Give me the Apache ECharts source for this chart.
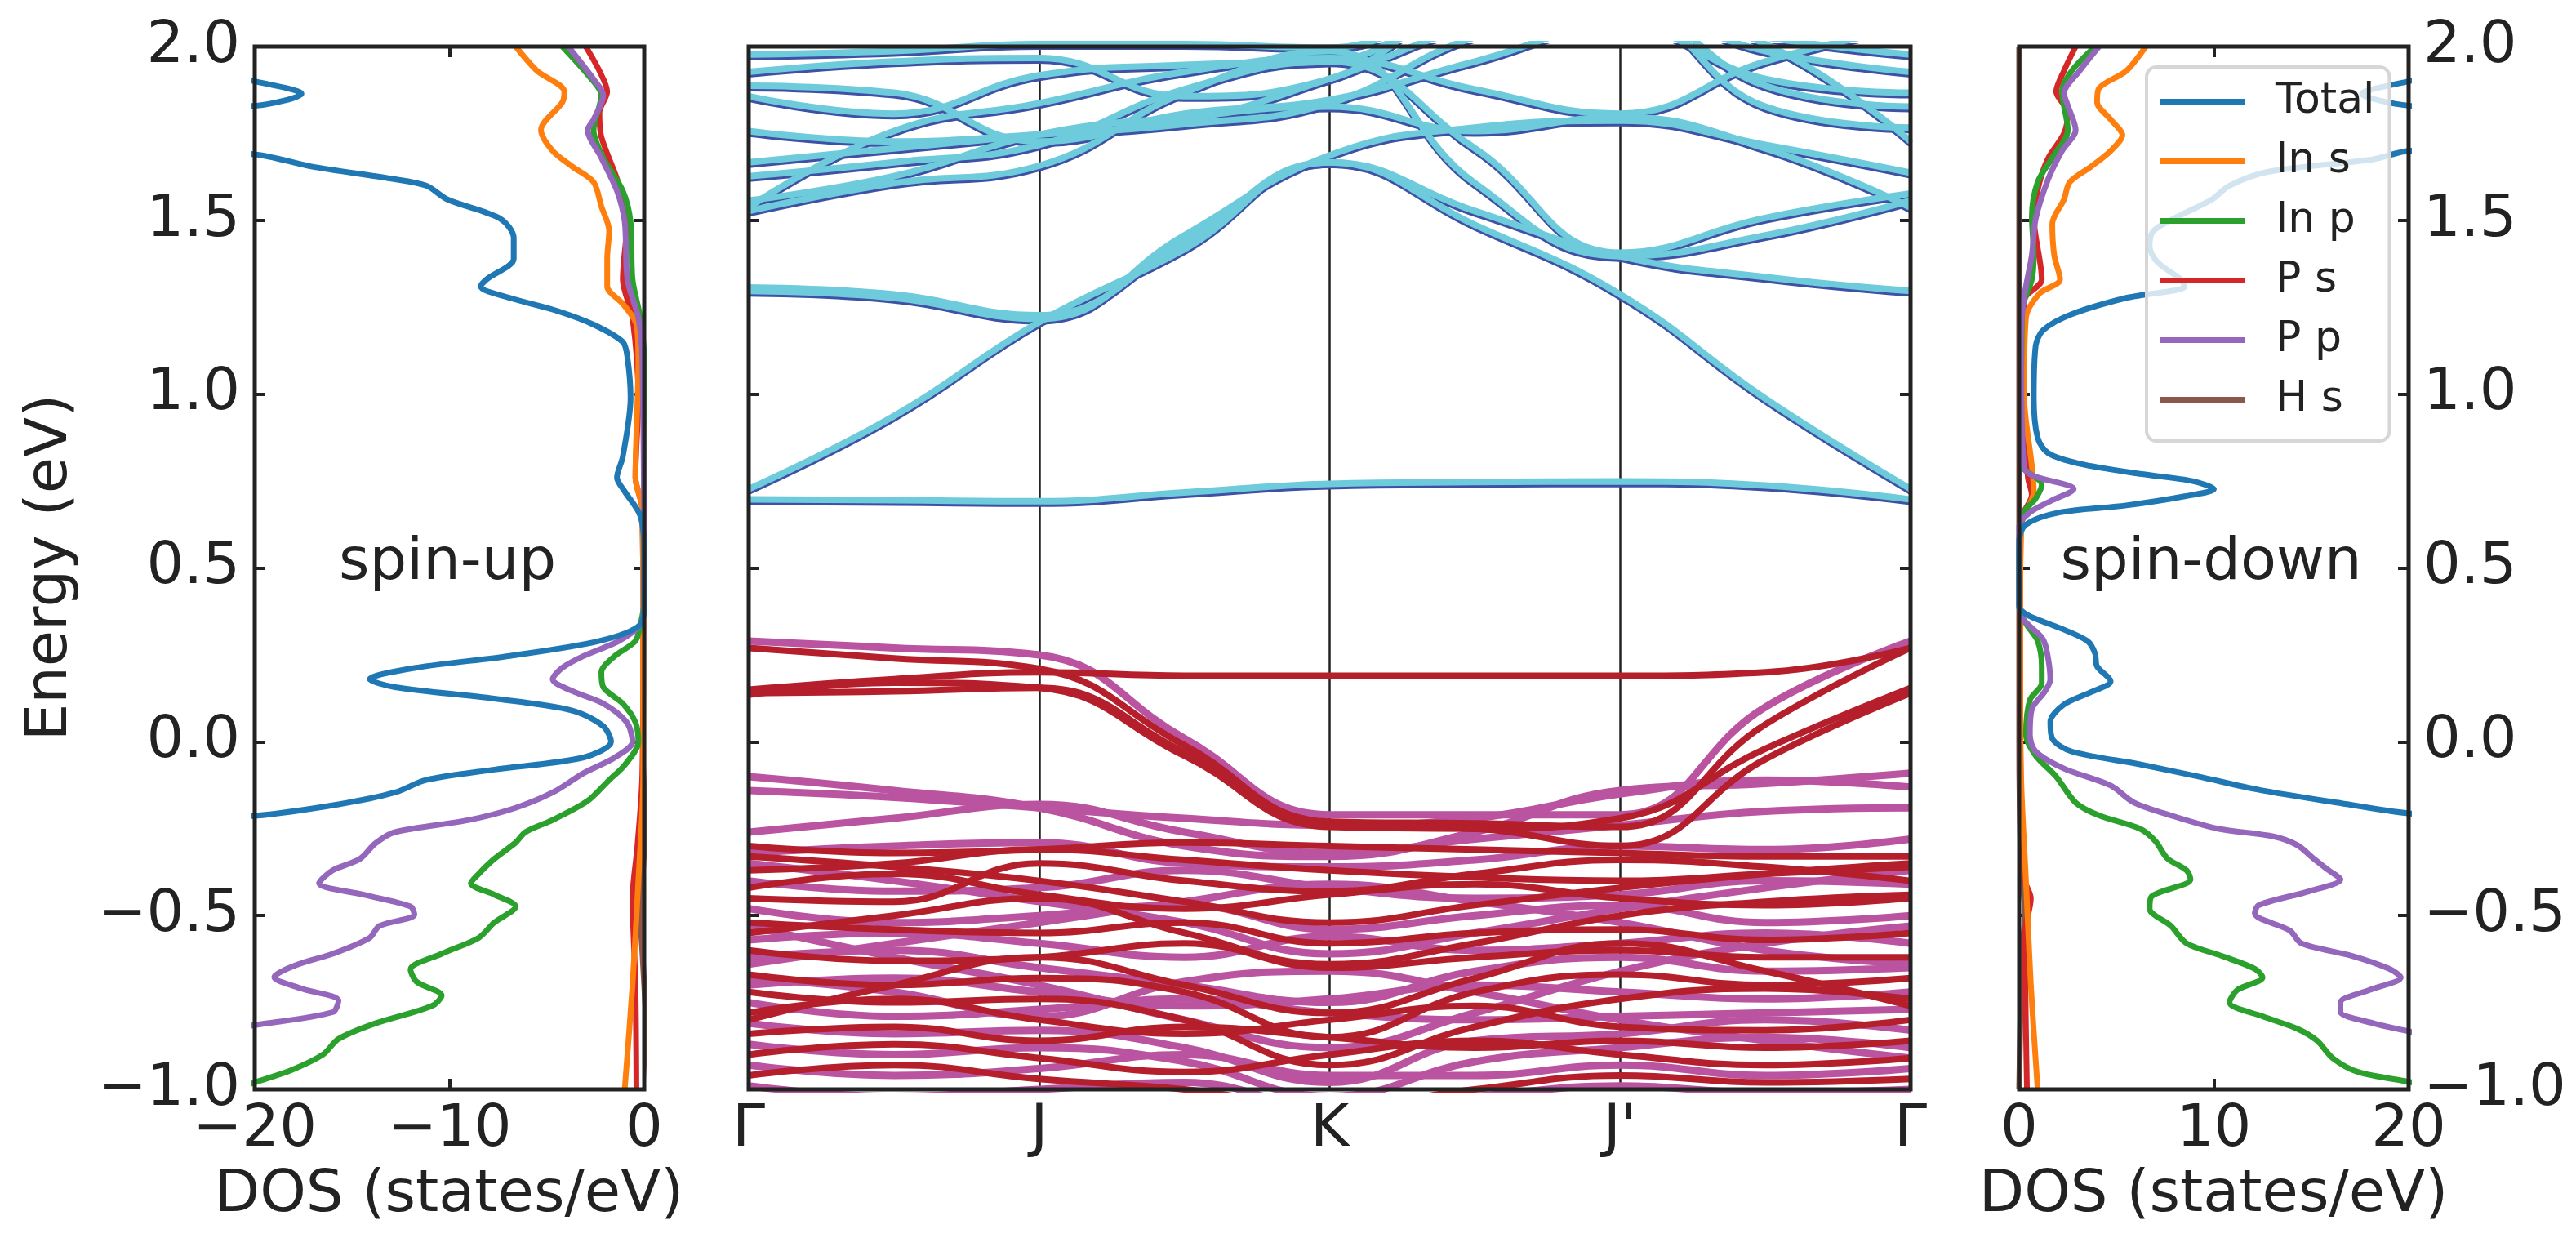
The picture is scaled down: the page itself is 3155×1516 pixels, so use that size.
<!DOCTYPE html>
<html>
<head>
<meta charset="utf-8">
<script src="https://cdn.jsdelivr.net/npm/echarts@6/dist/echarts.min.js"></script>
<style>html,body{margin:0;padding:0;background:#fff}#main{width:3155px;height:1516px}</style>
</head>
<body>
<div id="main"></div>
<script>
// k path tick labels and positions
var kLabels = ['Γ', 'J', 'K', "J'", 'Γ'];
var kPoints = [0, 0.5, 1, 1.5, 2, 2.5, 3, 3.5, 4];

// spin-down conduction bands (eV at kPoints)
var downBands = [
  [0.69, 0.688, 0.685, 0.71, 0.735, 0.74, 0.742, 0.73, 0.69],
  [0.72, 0.93, 1.20, 1.41, 1.66, 1.48, 1.28, 0.98, 0.72],
  [1.29, 1.27, 1.21, 1.45, 1.68, 1.76, 1.78, 1.71, 1.63],
  [1.30, 1.28, 1.22, 1.43, 1.66, 1.52, 1.39, 1.33, 1.29],
  [1.52, 1.60, 1.65, 1.86, 1.98, 1.60, 1.39, 1.45, 1.55],
  [1.53, 1.75, 1.83, 1.92, 1.96, 1.87, 1.80, 1.95, 2.05],
  [1.62, 1.66, 1.71, 1.87, 1.95, 1.70, 1.40, 1.50, 1.57],
  [1.66, 1.70, 1.74, 1.78, 1.90, 2.05, 2.10, 2.00, 1.72],
  [1.75, 1.72, 1.74, 1.77, 1.83, 2.02, 2.10, 1.82, 1.76],
  [1.85, 1.80, 1.91, 1.94, 1.95, 2.10, 2.10, 1.88, 1.82],
  [1.92, 1.95, 1.96, 1.85, 1.90, 2.10, 2.10, 1.98, 1.92],
  [1.97, 1.98, 2.00, 2.00, 1.99, 2.10, 2.10, 2.02, 1.97],
  [1.88, 1.86, 1.72, 1.80, 1.84, 1.95, 2.05, 1.90, 1.86],
  [1.55, 1.62, 1.74, 1.79, 1.82, 1.75, 1.79, 1.70, 1.53]
];

// spin-up valence bands, magenta group
var upBandsM = [
  [0.29, 0.27, 0.25, 0.01, -0.21, -0.21, -0.21, 0.10, 0.29],
  [-0.10, -0.14, -0.19, -0.30, -0.33, -0.26, -0.14, -0.12, -0.09],
  [-0.26, -0.22, -0.18, -0.26, -0.32, -0.28, -0.24, -0.20, -0.19],
  [-0.32, -0.30, -0.29, -0.35, -0.36, -0.34, -0.30, -0.31, -0.28],
  [-0.40, -0.43, -0.42, -0.37, -0.42, -0.45, -0.44, -0.40, -0.41],
  [-0.48, -0.52, -0.50, -0.47, -0.54, -0.50, -0.47, -0.52, -0.50],
  [-0.57, -0.55, -0.58, -0.62, -0.56, -0.60, -0.58, -0.55, -0.58],
  [-0.62, -0.60, -0.65, -0.70, -0.75, -0.66, -0.62, -0.66, -0.65],
  [-0.70, -0.68, -0.72, -0.76, -0.74, -0.70, -0.72, -0.74, -0.72],
  [-0.75, -0.79, -0.77, -0.74, -0.78, -0.80, -0.79, -0.78, -0.77],
  [-0.81, -0.84, -0.83, -0.88, -0.98, -0.86, -0.84, -0.80, -0.83],
  [-0.87, -0.90, -0.88, -0.92, -1.02, -0.92, -0.88, -0.85, -0.88],
  [-0.93, -0.96, -0.94, -0.90, -0.96, -0.96, -0.93, -0.96, -0.94],
  [-0.99, -1.02, -1.00, -0.98, -1.05, -1.02, -0.99, -1.01, -1.00],
  [-0.64, -0.58, -0.52, -0.46, -0.41, -0.46, -0.52, -0.60, -0.64],
  [-0.14, -0.16, -0.19, -0.22, -0.24, -0.22, -0.15, -0.11, -0.13],
  [-0.35, -0.40, -0.46, -0.52, -0.61, -0.55, -0.48, -0.42, -0.37],
  [-0.53, -0.62, -0.70, -0.80, -0.88, -0.78, -0.66, -0.58, -0.53],
  [-0.68, -0.72, -0.79, -0.69, -0.66, -0.72, -0.80, -0.86, -0.91]
];

// spin-up valence bands, red group
var upBandsR = [
  [0.27, 0.24, 0.21, -0.01, -0.23, -0.235, -0.245, 0.05, 0.27],
  [0.15, 0.18, 0.20, 0.19, 0.19, 0.19, 0.19, 0.20, 0.27],
  [0.135, 0.17, 0.155, -0.04, -0.245, -0.25, -0.22, -0.02, 0.155],
  [0.14, 0.145, 0.155, -0.03, -0.24, -0.25, -0.30, -0.05, 0.14],
  [-0.30, -0.32, -0.31, -0.29, -0.30, -0.31, -0.32, -0.33, -0.33],
  [-0.37, -0.35, -0.31, -0.34, -0.37, -0.39, -0.40, -0.38, -0.36],
  [-0.42, -0.38, -0.44, -0.48, -0.44, -0.41, -0.45, -0.47, -0.45],
  [-0.52, -0.54, -0.55, -0.52, -0.58, -0.55, -0.54, -0.57, -0.55],
  [-0.60, -0.63, -0.62, -0.58, -0.65, -0.62, -0.60, -0.62, -0.62],
  [-0.67, -0.70, -0.68, -0.72, -0.85, -0.72, -0.67, -0.70, -0.68],
  [-0.72, -0.75, -0.74, -0.80, -0.93, -0.82, -0.74, -0.71, -0.74],
  [-0.78, -0.74, -0.80, -0.84, -0.80, -0.76, -0.82, -0.83, -0.80],
  [-0.84, -0.82, -0.86, -0.82, -0.85, -0.88, -0.86, -0.88, -0.86],
  [-0.90, -0.87, -0.91, -0.95, -0.90, -0.86, -0.90, -0.93, -0.91],
  [-0.96, -0.93, -0.97, -1.00, -1.05, -1.00, -0.96, -0.98, -0.97],
  [-0.45, -0.46, -0.35, -0.40, -0.43, -0.38, -0.34, -0.36, -0.40],
  [-0.55, -0.50, -0.45, -0.55, -0.64, -0.58, -0.50, -0.46, -0.44],
  [-0.80, -0.70, -0.62, -0.70, -0.78, -0.68, -0.58, -0.66, -0.76],
  [-0.33, -0.36, -0.40, -0.46, -0.52, -0.47, -0.42, -0.38, -0.35]
];

// DOS curves, [energy, dos] ; spin-up is negative
var upTotal = [[2.0,-30],[1.92,-22],[1.90,-20],[1.864,-17.6],[1.83,-19.9],[1.80,-30],[1.72,-30],[1.69,-20],[1.655,-17.1],[1.62,-13.0],[1.60,-11.2],[1.56,-10.1],[1.505,-7.4],[1.45,-6.7],[1.39,-6.7],[1.33,-8.1],[1.31,-8.4],[1.277,-6.9],[1.24,-4.5],[1.20,-2.6],[1.15,-1.1],[1.105,-0.86],[0.99,-0.7],[0.82,-1.1],[0.76,-1.4],[0.72,-1.0],[0.65,-0.2],[0.55,0],[0.40,0],[0.337,-0.2],[0.29,-2.3],[0.247,-6.9],[0.213,-11.7],[0.18,-14.1],[0.157,-12.8],[0.124,-7.7],[0.09,-3.7],[0.045,-2.1],[0.0,-1.7],[-0.045,-3.1],[-0.08,-7.7],[-0.11,-11.2],[-0.146,-12.8],[-0.18,-15.7],[-0.213,-20],[-0.25,-30],[-1.0,-30]];
var upInS = [[2.0,-6.6],[1.93,-5.5],[1.87,-4.1],[1.84,-4.2],[1.76,-5.3],[1.70,-4.7],[1.655,-3.7],[1.61,-2.6],[1.54,-2.2],[1.47,-1.8],[1.39,-1.9],[1.31,-1.9],[1.26,-1.1],[1.20,-0.4],[1.10,-0.3],[0.76,-0.45],[0.67,-0.1],[0.3,-0.05],[-0.1,-0.05],[-0.4,-0.3],[-0.7,-0.6],[-1.0,-1.0]];
var upInP = [[2.0,-4.2],[1.906,-2.7],[1.86,-2.2],[1.76,-2.6],[1.68,-2.1],[1.585,-1.1],[1.495,-0.7],[1.33,-0.6],[1.22,-0.2],[1.10,0],[0.40,0],[0.337,-0.2],[0.29,-0.45],[0.247,-1.5],[0.20,-2.2],[0.157,-2.1],[0.11,-1.1],[0.056,-0.45],[0.0,-0.3],[-0.067,-1.0],[-0.11,-1.8],[-0.17,-2.9],[-0.225,-4.7],[-0.26,-6.1],[-0.29,-6.6],[-0.337,-7.7],[-0.38,-8.5],[-0.407,-8.9],[-0.44,-7.7],[-0.474,-6.6],[-0.52,-7.7],[-0.564,-8.5],[-0.61,-10.4],[-0.655,-12.0],[-0.69,-11.7],[-0.73,-10.4],[-0.76,-10.9],[-0.81,-13.8],[-0.855,-15.7],[-0.90,-16.5],[-0.944,-18.1],[-0.98,-20],[-1.0,-21]];
var upPS = [[2.0,-3.0],[1.93,-2.3],[1.87,-1.9],[1.81,-2.3],[1.74,-2.2],[1.62,-1.4],[1.51,-0.86],[1.33,-1.1],[1.22,-0.6],[0.99,-0.3],[0.76,-0.45],[0.67,-0.1],[0.3,-0.05],[-0.1,-0.1],[-0.3,-0.35],[-0.45,-0.6],[-0.7,-0.45],[-1.0,-0.4]];
var upPP = [[2.0,-3.9],[1.906,-2.6],[1.86,-2.1],[1.79,-2.6],[1.76,-2.9],[1.68,-2.2],[1.585,-1.4],[1.495,-1.0],[1.33,-0.86],[1.22,-0.3],[1.10,-0.1],[0.40,0],[0.337,-0.2],[0.29,-1.3],[0.247,-3.1],[0.213,-4.2],[0.18,-4.7],[0.146,-3.7],[0.11,-2.1],[0.056,-0.9],[0.0,-0.6],[-0.045,-1.5],[-0.09,-3.1],[-0.146,-4.7],[-0.19,-6.6],[-0.225,-9.0],[-0.26,-12.8],[-0.292,-13.8],[-0.337,-14.6],[-0.37,-16.0],[-0.407,-16.7],[-0.44,-14.4],[-0.474,-12.0],[-0.497,-11.8],[-0.53,-13.6],[-0.564,-14.1],[-0.61,-16.0],[-0.643,-17.9],[-0.677,-19.0],[-0.71,-17.6],[-0.745,-15.7],[-0.778,-16.0],[-0.815,-20],[-0.85,-24]];
var upHS = [[2.0,0.3],[0.0,0.3],[-0.4,-0.1],[-0.5,-0.2],[-0.6,-0.1],[-1.0,0.3]];

var downTotal = [[2.0,30],[1.92,22],[1.90,20],[1.864,17.6],[1.83,20],[1.80,30],[1.72,30],[1.70,20],[1.676,18.2],[1.64,12.8],[1.60,10.8],[1.56,9.9],[1.515,8.3],[1.47,6.9],[1.425,6.7],[1.38,7.1],[1.33,8.3],[1.31,8.5],[1.277,5.5],[1.23,2.7],[1.185,1.25],[1.14,0.85],[0.99,0.75],[0.875,0.95],[0.83,1.5],[0.80,3.1],[0.77,6.3],[0.75,8.9],[0.727,10.0],[0.706,8.5],[0.68,5.5],[0.66,2.1],[0.625,0.35],[0.58,0],[0.39,0],[0.364,0.45],[0.327,2.1],[0.29,3.5],[0.254,3.9],[0.217,4.0],[0.174,4.7],[0.143,3.7],[0.107,2.3],[0.058,1.6],[0.009,1.7],[-0.028,2.7],[-0.065,6.2],[-0.10,9.2],[-0.138,12.3],[-0.175,16.3],[-0.206,20],[-0.25,30],[-1.0,30]];
var downInS = [[2.0,6.5],[1.93,5.5],[1.88,4.1],[1.84,4.0],[1.79,4.7],[1.745,5.3],[1.70,4.7],[1.655,3.7],[1.61,2.6],[1.56,2.3],[1.49,1.7],[1.40,1.8],[1.33,2.1],[1.29,1.05],[1.22,0.35],[1.0,0.25],[0.72,0.75],[0.62,0.1],[0.3,0.05],[-0.1,0.1],[-0.4,0.35],[-0.7,0.6],[-1.0,0.95]];
var downInP = [[2.0,3.9],[1.93,2.7],[1.87,2.2],[1.76,2.5],[1.68,1.7],[1.61,0.95],[1.51,0.65],[1.40,0.75],[1.33,0.65],[1.24,0.15],[0.80,0.1],[0.74,1.16],[0.70,0.85],[0.66,0.25],[0.55,0],[0.39,0],[0.34,0.35],[0.29,0.95],[0.217,1.16],[0.168,1.16],[0.12,0.55],[0.02,0.35],[-0.04,0.85],[-0.10,1.9],[-0.175,2.9],[-0.212,4.1],[-0.25,6.2],[-0.286,7.0],[-0.335,7.6],[-0.37,8.6],[-0.396,8.8],[-0.445,6.8],[-0.48,6.7],[-0.53,7.8],[-0.58,8.6],[-0.616,10.4],[-0.653,12.1],[-0.678,12.5],[-0.714,11.2],[-0.75,10.8],[-0.79,12.5],[-0.826,14.3],[-0.86,15.3],[-0.91,16.1],[-0.95,17.4],[-0.978,20],[-1.0,22]];
var downPS = [[2.0,2.9],[1.93,2.3],[1.87,1.9],[1.81,2.5],[1.75,2.3],[1.68,1.5],[1.61,1.05],[1.51,0.75],[1.33,1.16],[1.27,0.25],[1.0,0.2],[0.76,0.45],[0.71,0.65],[0.64,0.1],[0.3,0.05],[-0.2,0.1],[-0.4,0.3],[-0.45,0.6],[-0.55,0.3],[-1.0,0.4]];
var downPP = [[2.0,4.1],[1.93,3.1],[1.866,2.3],[1.83,2.5],[1.76,2.9],[1.70,2.2],[1.62,1.5],[1.505,0.85],[1.40,0.65],[1.277,0.25],[1.16,0.1],[0.79,0.25],[0.727,2.8],[0.695,1.7],[0.66,0.55],[0.62,0],[0.39,0],[0.35,0.25],[0.30,1.16],[0.266,1.4],[0.18,1.6],[0.143,1.3],[0.094,0.65],[0.02,0.55],[-0.028,0.85],[-0.077,2.3],[-0.126,4.7],[-0.175,5.9],[-0.212,7.8],[-0.25,10.2],[-0.273,13.1],[-0.298,14.3],[-0.335,15.1],[-0.37,15.9],[-0.396,16.5],[-0.43,14.9],[-0.47,12.3],[-0.494,12.1],[-0.543,13.9],[-0.58,14.5],[-0.616,17.1],[-0.653,19.0],[-0.678,19.6],[-0.714,18.0],[-0.75,16.5],[-0.777,16.5],[-0.81,18.2],[-0.833,20],[-0.87,23]];
var downHS = [[2.0,0],[0.0,0],[-0.35,0.1],[-0.5,0.3],[-0.6,0.15],[-1.0,0]];

var dosNames = ['Total', 'In s', 'In p', 'P s', 'P p', 'H s'];
var dosColors = ['#1f77b4', '#ff7f0e', '#2ca02c', '#d62728', '#9467bd', '#8c564b'];

var chart = echarts.init(document.getElementById('main'));
var FONT = 'DejaVu Sans';
var INK = '#222222';

var grids = [
  { left: 312, top: 57, width: 477, height: 1277 },
  { left: 917, top: 57, width: 1423, height: 1277 },
  { left: 917, top: 54, width: 1423, height: 1277 },
  { left: 2473, top: 57, width: 477, height: 1277 }
];
grids.forEach(function (g, i) {
  g.show = i !== 2;
  g.borderColor = INK;
  g.borderWidth = 5;
  g.backgroundColor = 'transparent';
  g.z = 5;
});

function tickAx(extra) {
  var a = {
    type: 'value',
    axisLine: { show: false, onZero: false },
    axisTick: { show: true, inside: true, length: 13, lineStyle: { color: INK, width: 4 } },
    axisLabel: { show: false },
    splitLine: { show: false }
  };
  return Object.assign(a, extra);
}
function minus(v) { return String(v).replace('-', '\u2212'); }
function minus1(v) { return v.toFixed(1).replace('-', '\u2212'); }
var labelStyle = { show: true, color: INK, fontSize: 72, fontFamily: FONT };

var xAxes = [
  tickAx({ gridIndex: 0, min: -20, max: 0, interval: 10, position: 'bottom', axisLabel: Object.assign({ margin: 14, formatter: minus }, labelStyle) }),
  tickAx({ gridIndex: 0, min: -20, max: 0, interval: 10, position: 'top' }),
  tickAx({ gridIndex: 1, min: 0, max: 4, interval: 1, position: 'bottom',
    axisTick: { show: false },
    axisLabel: Object.assign({ margin: 14, formatter: function (v) { return kLabels[Math.round(v)]; } }, labelStyle),
    splitLine: { show: true, lineStyle: { color: INK, width: 2.5 } } }),
  tickAx({ gridIndex: 2, min: 0, max: 4, show: false }),
  tickAx({ gridIndex: 3, min: 0, max: 20, interval: 10, position: 'bottom', axisLabel: Object.assign({ margin: 14 }, labelStyle) }),
  tickAx({ gridIndex: 3, min: 0, max: 20, interval: 10, position: 'top' })
];
var yAxes = [
  tickAx({ gridIndex: 0, min: -1, max: 2, interval: 0.5, position: 'left',
    axisLabel: Object.assign({ margin: 18, formatter: minus1 }, labelStyle) }),
  tickAx({ gridIndex: 0, min: -1, max: 2, interval: 0.5, position: 'right' }),
  tickAx({ gridIndex: 1, min: -1, max: 2, interval: 0.5, position: 'left' }),
  tickAx({ gridIndex: 1, min: -1, max: 2, interval: 0.5, position: 'right' }),
  tickAx({ gridIndex: 2, min: -1, max: 2, show: false }),
  tickAx({ gridIndex: 3, min: -1, max: 2, interval: 0.5, position: 'left' }),
  tickAx({ gridIndex: 3, min: -1, max: 2, interval: 0.5, position: 'right',
    axisLabel: Object.assign({ margin: 18, formatter: minus1 }, labelStyle) })
];

var series = [];
function band(vals, color, width, xi, yi) {
  series.push({
    type: 'line', xAxisIndex: xi, yAxisIndex: yi, showSymbol: false, smooth: 0.45,
    silent: true, clip: true,
    lineStyle: { color: color, width: width },
    data: vals.map(function (e, i) { return [kPoints[i], e]; })
  });
}
upBandsM.forEach(function (b) { band(b, '#ba53a0', 9, 2, 2); });
upBandsR.forEach(function (b) { band(b, '#b41f2b', 8, 2, 2); });
downBands.forEach(function (b) { band(b, '#3f51a5', 8, 2, 2); });
downBands.forEach(function (b) { band(b, '#6dcbdb', 8, 3, 4); });

function dos(name, pts, xi, yi, idx) {
  series.push({
    name: name, type: 'line', xAxisIndex: xi, yAxisIndex: yi, showSymbol: false,
    smooth: 0.3, clip: true,
    lineStyle: { color: dosColors[idx], width: 7 },
    itemStyle: { color: dosColors[idx] },
    data: pts.map(function (p) { return [p[1], p[0]]; })
  });
}
var upSets = [upTotal, upInS, upInP, upPS, upPP, upHS];
var downSets = [downTotal, downInS, downInP, downPS, downPP, downHS];
[5, 3, 1, 2, 4, 0].forEach(function (i) {
  dos(dosNames[i], upSets[i], 0, 0, i);
  dos(dosNames[i], downSets[i], 4, 5, i);
});

var txt = function (t, x, y, size, rot) {
  return { type: 'text', x: x, y: y, rotation: rot || 0, z: 10,
    style: { text: t, fill: INK, font: size + 'px "' + FONT + '"', align: 'center', verticalAlign: 'middle' } };
};

chart.setOption({
  animation: false,
  backgroundColor: '#ffffff',
  grid: grids,
  xAxis: xAxes,
  yAxis: yAxes,
  series: series,
  legend: {
    data: dosNames, orient: 'vertical', left: 2629, top: 82,
    itemWidth: 105, itemHeight: 7, itemGap: 16, icon: 'rect',
    padding: [14, 18, 22, 16],
    backgroundColor: 'rgba(255,255,255,0.8)', borderColor: '#d6d6d6', borderWidth: 4, borderRadius: 12,
    textStyle: { fontSize: 52, fontFamily: FONT, color: INK, padding: [0, 0, 0, 32], lineHeight: 57 },
    z: 20
  },
  graphic: [
    txt('Energy (eV)', 62, 695, 72, Math.PI / 2),
    txt('DOS (states/eV)', 550, 1464, 72),
    txt('DOS (states/eV)', 2711, 1464, 72),
    txt('spin-up', 548, 690, 72),
    txt('spin-down', 2708, 690, 72)
  ]
});
</script>
</body>
</html>
